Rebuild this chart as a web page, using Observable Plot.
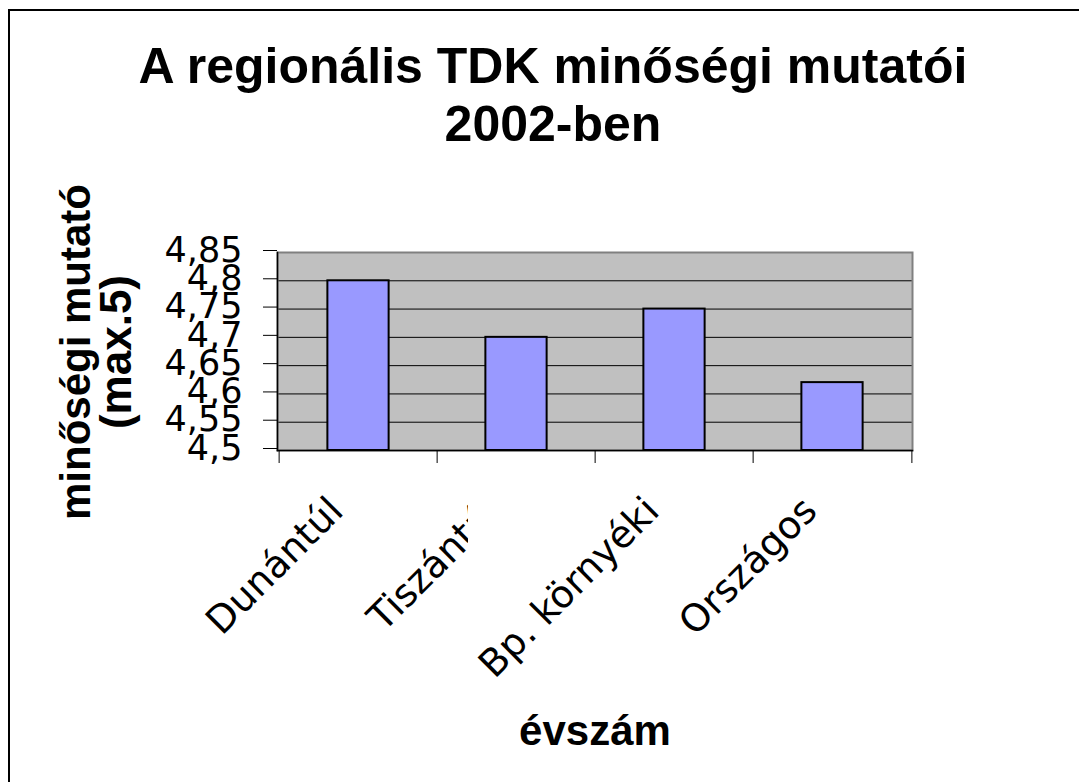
<!DOCTYPE html>
<html>
<head>
<meta charset="utf-8">
<script src="https://cdn.jsdelivr.net/npm/d3@7"></script>
<script src="https://cdn.jsdelivr.net/npm/@observablehq/plot@0.6"></script>
<style>
  body { margin: 0; background: #fff; }
  #wrap { position: relative; width: 1079px; height: 782px; overflow: hidden; font-family: "Liberation Sans", Arial, sans-serif; color: #000; }
  #border { position: absolute; left: 8px; top: 9px; width: 1300px; height: 1000px; border-top: 2px solid #000; border-left: 2px solid #000; box-sizing: border-box; }
  #title { position: absolute; left: 0; top: 36.7px; width: 1106px; text-align: center; font-weight: bold; font-size: 50px; line-height: 58px; white-space: nowrap; }
  #ylabel { position: absolute; left: -103.6px; top: 312px; width: 400px; height: 80px; text-align: center; font-weight: bold; font-size: 42px; line-height: 40px; transform: rotate(-90deg); transform-origin: 50% 50%; white-space: nowrap; }
  #ylabel .l2 { font-size: 44px; }
  #xlabel { position: absolute; left: 295px; top: 710.4px; width: 600px; text-align: center; font-weight: bold; font-size: 42px; line-height: 42px; white-space: nowrap; }
  #chart { position: absolute; left: 0; top: 0; }
  #chart svg { overflow: visible; background: transparent; }
</style>
</head>
<body>
<div id="wrap">
  <div id="border"></div>
  <div id="title">A regionális TDK minőségi mutatói<br>2002-ben</div>
  <div id="ylabel">minőségi mutató<br><span class="l2">(max.5)</span></div>
  <div id="xlabel">évszám</div>
  <div id="chart"></div>
</div>
<script>
// ---- data ----
const categories = ["Dunántúl", "Tiszántúl", "Bp. környéki", "Országos"];
const values = [4.8, 4.7, 4.75, 4.62];
const yTicks = [4.5, 4.55, 4.6, 4.65, 4.7, 4.75, 4.8, 4.85];
const yTickLabels = ["4,5", "4,55", "4,6", "4,65", "4,7", "4,75", "4,8", "4,85"];
const yDomain = [4.5, 4.85];

// ---- layout ----
const W = 1079, H = 782;
const mL = 277, mR = 1079 - 912, mT = 252, mB = 782 - 450;
const step = (W - mL - mR) / categories.length;
const barInset = (step - 62) / 2;

const data = categories.map((c, i) => ({cat: c, value: values[i]}));
const fmtY = d => yTickLabels[yTicks.findIndex(t => Math.abs(t - d) < 1e-9)];
const lastCat = [categories[categories.length - 1]];

const chart = Plot.plot({
  width: W,
  height: H,
  marginLeft: mL,
  marginRight: mR,
  marginTop: mT,
  marginBottom: mB,
  style: {background: "transparent", overflow: "visible"},
  x: {domain: categories, padding: 0, axis: null},
  y: {domain: yDomain, axis: null},
  marks: [
    Plot.frame({fill: "#c0c0c0"}),
    Plot.gridY(yTicks, {stroke: "#000", strokeOpacity: 1, strokeWidth: 1}),
    Plot.frame({stroke: "#808080", strokeWidth: 2}),
    Plot.barY(data, {x: "cat", y1: yDomain[0], y2: "value", fill: "#9999ff", stroke: "#000", strokeWidth: 2, insetLeft: barInset, insetRight: barInset}),
    Plot.frame({anchor: "left", stroke: "#000", strokeWidth: 1.5}),
    Plot.frame({anchor: "bottom", stroke: "#000", strokeWidth: 1.5}),
    Plot.axisY({ticks: yTicks, tickSize: 14, tickPadding: 21, tickFormat: fmtY, fontSize: 35, fontFamily: "DejaVu Sans", fill: "#000", stroke: "#000", strokeOpacity: 1, dy: -2, label: null}),
    Plot.axisX({tickSize: 13, tickFormat: () => "", dx: -step / 2, stroke: "#000", strokeOpacity: 1, label: null}),
    Plot.axisX(lastCat, {tickSize: 13, tickFormat: () => "", dx: step / 2, stroke: "#000", strokeOpacity: 1, label: null}),
    Plot.axisX({tickSize: 0, tickPadding: 54, tickRotate: -45, textAnchor: "end", lineAnchor: "middle", fontSize: 38, fontFamily: "DejaVu Sans", fill: "#000", dx: -22, label: null})
  ]
});
document.getElementById("chart").appendChild(chart);

// clip the second category label the way the reference truncates it
const svg = chart.tagName.toLowerCase() === "svg" ? chart : chart.querySelector("svg");
const texts = Array.from(svg.querySelectorAll("text")).filter(t => t.textContent === categories[1]);
if (texts.length) {
  const grp = texts[0].parentNode;
  const ns = "http://www.w3.org/2000/svg";
  let defs = svg.querySelector("defs");
  if (!defs) { defs = document.createElementNS(ns, "defs"); svg.insertBefore(defs, svg.firstChild); }
  const cp = document.createElementNS(ns, "clipPath");
  cp.setAttribute("id", "cut-label");
  cp.setAttribute("clipPathUnits", "userSpaceOnUse");
  const p = document.createElementNS(ns, "path");
  p.setAttribute("d", "M-500,-500H2000V2000H-500Z M468,450H545V562H468Z");
  p.setAttribute("clip-rule", "evenodd");
  cp.appendChild(p);
  defs.appendChild(cp);
  const wrapper = document.createElementNS(ns, "g");
  wrapper.setAttribute("clip-path", "url(#cut-label)");
  grp.parentNode.insertBefore(wrapper, grp);
  wrapper.appendChild(grp);
}
</script>
</body>
</html>
